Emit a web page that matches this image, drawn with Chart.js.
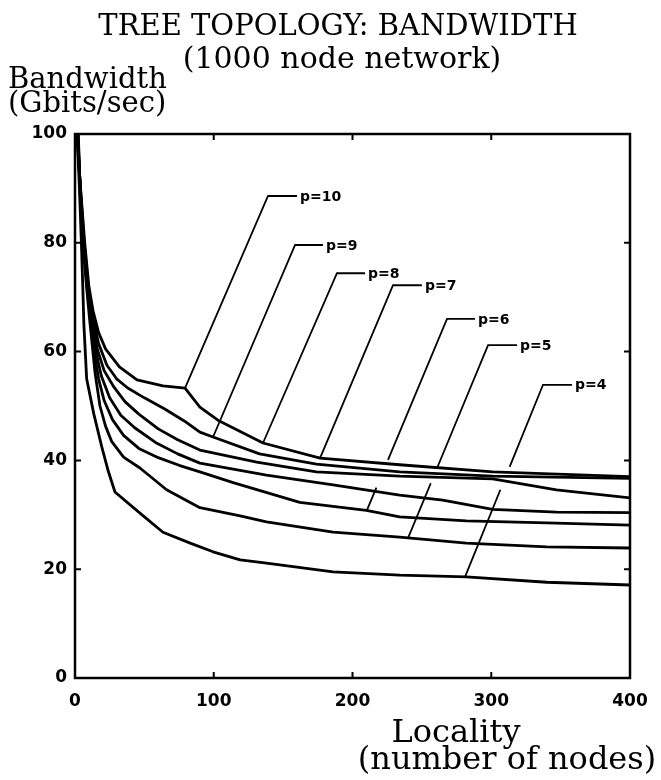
<!DOCTYPE html>
<html>
<head>
<meta charset="utf-8">
<script src="https://cdn.jsdelivr.net/npm/chart.js@4/dist/chart.umd.min.js"></script>
<style>
  html, body { margin: 0; padding: 0; background: #fff; }
  #wrap { width: 661px; height: 780px; position: relative; }
</style>
</head>
<body>
<div id="wrap"><canvas id="chart" width="661" height="780"></canvas></div>
<script>
// Axis ticks
const xTickValues = [0, 100, 200, 300, 400];
const yTickValues = [0, 20, 40, 60, 80, 100];

// Series labels, top to bottom at the right edge
const seriesLabels = ['p=10', 'p=9', 'p=8', 'p=7', 'p=6', 'p=5', 'p=4'];

// Locality (number of nodes) and bandwidth (Gbits/sec) for each branching factor
const p10Locality  = [1.4, 4, 7, 10, 13, 17, 22, 32, 44.7, 63.4, 79.3, 90, 103, 135.5, 176.6, 234, 301, 400];
const p10Bandwidth = [100, 90, 80, 72, 67.5, 63.5, 60.5, 57.2, 54.8, 53.7, 53.3, 49.8, 47.4, 43.2, 40.4, 39.2, 37.9, 37.0];

const p9Locality  = [1.6, 3.9, 6.6, 9.6, 12.8, 17, 23, 30, 38, 50, 65, 79, 90, 99.5, 133, 174, 234, 301, 400];
const p9Bandwidth = [100, 90, 80, 72, 66.5, 61.5, 57.5, 55, 53.3, 51.5, 49.4, 47.2, 45.2, 44.3, 41.2, 39.3, 37.9, 37.1, 36.7];

const p8Locality  = [1.8, 3.8, 6.3, 9.2, 12.3, 16, 21, 28, 36, 46, 60, 74, 90, 131, 174, 234, 301, 347, 400];
const p8Bandwidth = [100, 90, 80, 72, 66, 60.5, 56.5, 53.5, 50.8, 48.5, 45.8, 43.8, 41.9, 39.7, 37.9, 37.1, 36.6, 34.6, 33.1];

const p7Locality  = [2, 3.7, 6.1, 9, 12, 15, 19, 25, 33, 43, 58, 74, 90, 138, 186, 234, 265, 301, 347, 400];
const p7Bandwidth = [100, 90, 80, 72, 65.5, 60, 55.5, 51.5, 48.3, 46.0, 43.3, 41.2, 39.5, 37.3, 35.5, 33.6, 32.7, 31.0, 30.5, 30.4];

const p6Locality  = [2.2, 3.6, 5.9, 8.7, 11.5, 14, 17, 21, 27, 35, 46, 60, 75, 90, 114, 162, 210, 234, 282, 340, 400];
const p6Bandwidth = [100, 90, 80, 72, 65, 59.5, 55, 51, 47.5, 44.6, 42.2, 40.5, 39.1, 37.9, 35.9, 32.3, 30.8, 29.6, 28.9, 28.5, 28.1];

const p5Locality  = [2.4, 3.6, 5.7, 8.3, 10.5, 12.5, 14.5, 18, 22, 26.4, 35, 46.8, 66, 90, 119, 138, 186, 234, 282, 340, 400];
const p5Bandwidth = [100, 90, 80, 72, 66, 61, 56, 50, 46.3, 43.5, 40.6, 38.6, 34.6, 31.3, 29.8, 28.7, 26.8, 25.9, 24.8, 24.1, 23.9];

const p4Locality  = [1.5, 3.2, 4.6, 5.6, 6.4, 7.4, 8.4, 13.5, 19.3, 24, 28.8, 46.8, 63.4, 83, 99.5, 119, 138, 186, 234, 282, 340, 400];
const p4Bandwidth = [100, 90, 80, 72, 65, 60, 55, 48.6, 42.5, 38, 34.2, 30.3, 26.8, 24.8, 23.2, 21.7, 21.1, 19.5, 18.9, 18.6, 17.6, 17.1];

const seriesLocality  = [p10Locality, p9Locality, p8Locality, p7Locality, p6Locality, p5Locality, p4Locality];
const seriesBandwidth = [p10Bandwidth, p9Bandwidth, p8Bandwidth, p7Bandwidth, p6Bandwidth, p5Bandwidth, p4Bandwidth];

// Callout placement in data units: tip on the curve, elbow, end of the short arm,
// and an optional break where the leader passes behind the bundle of curves
const callouts = [
  { text: 'p=10', tip: [79.3, 53.3],  elbow: [139.1, 88.6], arm: [160.0, 88.6] },
  { text: 'p=9',  tip: [99.5, 44.3],  elbow: [158.6, 79.6], arm: [178.7, 79.6] },
  { text: 'p=8',  tip: [135.5, 43.2], elbow: [188.8, 74.4], arm: [209.0, 74.4] },
  { text: 'p=7',  tip: [176.6, 40.4], elbow: [229.2, 72.2], arm: [250.0, 72.2] },
  { text: 'p=6',  tip: [210.5, 30.9], elbow: [268.1, 66.0], arm: [288.3, 66.0], gap: [35.0, 40.1] },
  { text: 'p=5',  tip: [240.0, 25.7], elbow: [297.7, 61.2], arm: [318.6, 61.2], gap: [35.8, 38.6] },
  { text: 'p=4',  tip: [281.1, 18.6], elbow: [337.3, 53.9], arm: [358.2, 53.9], gap: [34.6, 38.8] }
];

const SERIF = '"DejaVu Serif", "Liberation Serif", serif';
const SANS = '"DejaVu Sans", "Liberation Sans", sans-serif';

const datasets = seriesLabels.map((label, i) => ({
  label,
  data: seriesLocality[i].map((x, j) => ({ x, y: seriesBandwidth[i][j] })),
  borderColor: '#000',
  borderWidth: 2.8,
  pointRadius: 0,
  tension: 0,
  fill: false,
  borderJoinStyle: 'round',
  borderCapStyle: 'round'
}));

// Frame with inward tick marks on all four sides
const framePlugin = {
  id: 'frame',
  afterDatasetsDraw(chart) {
    const { ctx, chartArea: a, scales: { x, y } } = chart;
    ctx.save();
    ctx.strokeStyle = '#000';
    ctx.lineWidth = 2.5;
    ctx.strokeRect(a.left, a.top, a.right - a.left, a.bottom - a.top);
    ctx.lineWidth = 2;
    const t = 6;
    xTickValues.slice(1, -1).forEach(v => {
      const px = x.getPixelForValue(v);
      ctx.beginPath();
      ctx.moveTo(px, a.bottom); ctx.lineTo(px, a.bottom - t);
      ctx.moveTo(px, a.top); ctx.lineTo(px, a.top + t);
      ctx.stroke();
    });
    yTickValues.slice(1, -1).forEach(v => {
      const py = y.getPixelForValue(v);
      ctx.beginPath();
      ctx.moveTo(a.left, py); ctx.lineTo(a.left + t, py);
      ctx.moveTo(a.right, py); ctx.lineTo(a.right - t, py);
      ctx.stroke();
    });
    ctx.restore();
  }
};

// Callout leaders and their p labels
const calloutPlugin = {
  id: 'callouts',
  afterDatasetsDraw(chart) {
    const { ctx, scales: { x, y } } = chart;
    ctx.save();
    ctx.strokeStyle = '#000';
    ctx.lineWidth = 1.8;
    ctx.fillStyle = '#000';
    ctx.font = 'bold 14px ' + SANS;
    ctx.textBaseline = 'middle';
    ctx.textAlign = 'left';
    callouts.forEach(c => {
      const tx = x.getPixelForValue(c.tip[0]), ty = y.getPixelForValue(c.tip[1]);
      const ex = x.getPixelForValue(c.elbow[0]), ey = y.getPixelForValue(c.elbow[1]);
      const ax = x.getPixelForValue(c.arm[0]), ay = y.getPixelForValue(c.arm[1]);
      ctx.beginPath();
      if (c.gap) {
        // point on the slanted leader at a given pixel height
        const at = py => tx + (ex - tx) * (py - ty) / (ey - ty);
        const gLow = y.getPixelForValue(c.gap[0]), gHigh = y.getPixelForValue(c.gap[1]);
        ctx.moveTo(tx, ty); ctx.lineTo(at(gLow), gLow);
        ctx.moveTo(at(gHigh), gHigh);
      } else {
        ctx.moveTo(tx, ty);
      }
      ctx.lineTo(ex, ey); ctx.lineTo(ax, ay);
      ctx.stroke();
      ctx.fillText(c.text, ax + 3, ay + 1);
    });
    ctx.restore();
  }
};

// Title block and axis captions
const textPlugin = {
  id: 'captions',
  afterDraw(chart) {
    const { ctx } = chart;
    ctx.save();
    ctx.fillStyle = '#000';
    ctx.textBaseline = 'alphabetic';
    ctx.textAlign = 'center';
    ctx.font = '29px ' + SERIF;
    ctx.fillText('TREE TOPOLOGY: BANDWIDTH', 338, 35);
    ctx.font = '30px ' + SERIF;
    ctx.fillText('(1000 node network)', 342, 68);
    ctx.textAlign = 'left';
    ctx.font = '29px ' + SERIF;
    ctx.fillText('Bandwidth', 8, 88);
    ctx.fillText('(Gbits/sec)', 8, 112);
    ctx.font = '32px ' + SERIF;
    ctx.textAlign = 'center';
    ctx.fillText('Locality', 456, 742);
    ctx.fillText('(number of nodes)', 507, 769);
    ctx.restore();
  }
};

new Chart(document.getElementById('chart'), {
  type: 'line',
  data: { datasets },
  options: {
    responsive: false,
    animation: false,
    devicePixelRatio: 1,
    layout: { padding: { left: 0, right: 31, top: 134, bottom: 0 } },
    plugins: { legend: { display: false }, tooltip: { enabled: false }, title: { display: false } },
    scales: {
      x: {
        type: 'linear',
        min: 0, max: 400,
        afterBuildTicks: s => { s.ticks = xTickValues.map(v => ({ value: v })); },
        afterFit: s => { s.height = 102; },
        grid: { display: false, drawTicks: false },
        border: { display: false },
        ticks: { color: '#000', padding: 13, font: { family: SANS, size: 17, weight: 'bold' } }
      },
      y: {
        type: 'linear',
        min: 0, max: 100,
        afterBuildTicks: s => { s.ticks = yTickValues.map(v => ({ value: v })); },
        afterFit: s => { s.width = 75; },
        grid: { display: false, drawTicks: false },
        border: { display: false },
        ticks: { color: '#000', padding: 8, font: { family: SANS, size: 17, weight: 'bold' } }
      }
    }
  },
  plugins: [framePlugin, calloutPlugin, textPlugin]
});
</script>
</body>
</html>
